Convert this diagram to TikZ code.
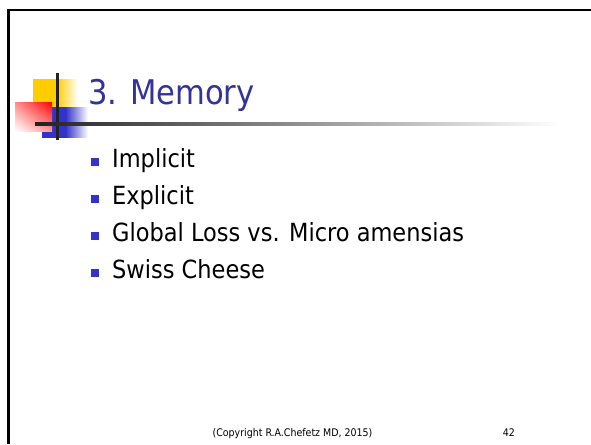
\documentclass[tikz,border=0pt]{standalone}
\usepackage{fontspec}
\usetikzlibrary{shadings}
\setmainfont{DejaVu Sans Condensed}
\definecolor{titleblue}{RGB}{51,51,153}
\definecolor{bulletblue}{RGB}{51,51,204}
\definecolor{logoyellow}{RGB}{255,204,0}
\definecolor{logored}{RGB}{255,0,0}
\definecolor{logoblue}{RGB}{51,51,204}
\definecolor{rulegray}{RGB}{34,34,34}

\begin{document}
\begin{tikzpicture}[x=1pt,y=-1pt,
  itemtext/.style={anchor=base west, inner sep=0pt, font=\fontsize{25}{30}\selectfont},
  bulletsq/.style={fill=bulletblue, draw=none},
  footer/.style={inner sep=0pt, font=\fontsize{10.5}{12}\selectfont}]
\useasboundingbox (0,0) rectangle (591,444);
\fill[white] (0,0) rectangle (591,444);

% slide frame (top and left edges)
\draw[line width=2.5pt] (8.5,444) -- (8.5,10) -- (591,10);

% logo: yellow block
\fill[logoyellow] (33,79) rectangle (57,110);
\shade[left color=logoyellow, right color=white] (56.5,79) rectangle (78,110);
% logo: blue block
\fill[logoblue] (42,107) rectangle (66,137.5);
\shade[left color=logoblue, right color=white] (65.5,107) rectangle (88,137.5);
% logo: red block
\shade[upper right=logored, upper left=logored!45, lower right=logored!40, lower left=white]
  (15,102) rectangle (52,131);
% logo: crossing bars
\draw[rulegray, line width=3pt] (57,73) -- (57,140);
\shade[left color=rulegray, right color=white] (35,122.7) rectangle (560,125.5);

% title
\node[anchor=base west, inner sep=0pt, text=titleblue, font=\fontsize{34}{40}\selectfont]
  (title) at (88,104) {3. Memory};

% bullet list
\foreach \b/\t [count=\i] in {167/Implicit, 204/Explicit, 241/Global Loss vs. Micro amensias, 278/Swiss Cheese} {
  \fill[bulletsq] (91,\b-9) rectangle (99,\b-1);
  \node[itemtext] (item\i) at (112,\b) {\t};
}

% footer
\node[footer, anchor=base] (copyright) at (292.5,436) {(Copyright R.A.Chefetz MD, 2015)};
\node[footer, anchor=base east] (pagenum) at (515,436) {42};
\end{tikzpicture}
\end{document}
